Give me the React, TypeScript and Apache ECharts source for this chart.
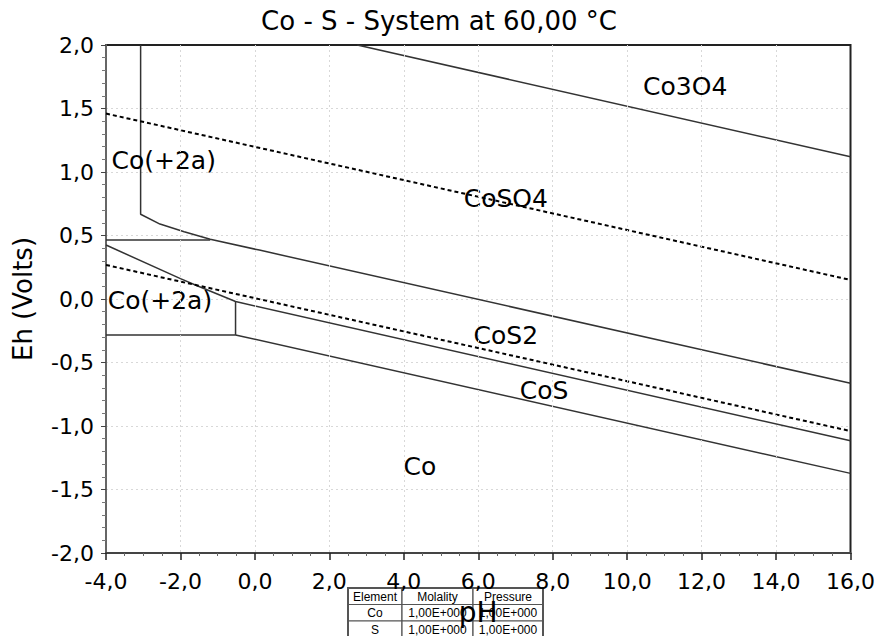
import React, { useEffect, useRef } from "react";
import * as echarts from "echarts";

const titleText = "Co - S - System at 60,00 °C";
const xName = "pH";
const yName = "Eh (Volts)";

// boundary lines [pH, Eh]
const lineA: number[][] = [[-3.07, 2.0], [-3.07, 0.667], [-2.55, 0.59], [-1.9, 0.53], [-1.2, 0.47], [0.12, 0.385], [16, -0.664]];
const lineB: number[][] = [[-4, 0.465], [-1.2, 0.465]];
const lineC: number[][] = [[2.75, 2.0], [16, 1.12]];
const lineD: number[][] = [[-4, 0.425], [-2.0, 0.16], [-1.6, 0.11], [-0.52, -0.02], [16, -1.116]];
const lineE: number[][] = [[-0.52, -0.02], [-0.52, -0.283]];
const lineF: number[][] = [[-4, -0.283], [-0.52, -0.283], [16, -1.373]];
const dottedUpper: number[][] = [[-4, 1.46], [16, 0.15]];
const dottedLower: number[][] = [[-4, 0.268], [16, -1.04]];

const regionNames = ["Co3O4", "Co(+2a)", "CoSO4", "Co(+2a)", "CoS2", "CoS", "Co"];
const regionPH = [11.56, -2.45, 6.74, -2.55, 6.74, 7.77, 4.43];
const regionEh = [1.677, 1.087, 0.795, -0.01, -0.29, -0.724, -1.315];

const tableHeader = ["Element", "Molality", "Pressure"];
const tableRows = [
  ["Co", "1,00E+000", "1,00E+000"],
  ["S", "1,00E+000", "1,00E+000"],
];

const FONT = "DejaVu Sans";

export default function App() {
  const ref = useRef<HTMLDivElement>(null);
  useEffect(() => {
    document.body.style.margin = "0";
    const chart = echarts.init(ref.current!, null, { renderer: "svg" });
    const fmt = (v: number) => v.toFixed(1).replace(".", ",");
    const solid = { color: "#333", width: 1.5 };
    const dotted = { color: "#000", width: 2, type: [4, 3] as any };
    const mk = (data: number[][], ls: any) => ({
      type: "line",
      data,
      showSymbol: false,
      symbol: "none",
      lineStyle: ls,
      silent: true,
      clip: true,
      z: 3,
    });

    // table graphic
    const colX = [348, 402, 473, 543];
    const rowY = [588, 604.5, 621, 637.5];
    const rows = [tableHeader, ...tableRows];
    const g: any[] = [];
    rows.forEach((r, ri) => {
      r.forEach((t, ci) => {
        g.push({
          type: "rect",
          shape: { x: colX[ci], y: rowY[ri], width: colX[ci + 1] - colX[ci], height: rowY[ri + 1] - rowY[ri] },
          style: { fill: "#fff", stroke: "#555", lineWidth: 1.2 },
          z: 1,
        });
        g.push({
          type: "text",
          x: (colX[ci] + colX[ci + 1]) / 2,
          y: (rowY[ri] + rowY[ri + 1]) / 2 + 0.5,
          style: { text: t, fill: "#000", font: "12px 'Liberation Sans'", align: "center", verticalAlign: "middle" },
          z: 2,
        });
      });
    });
    g.push({
      type: "rect",
      shape: { x: colX[0], y: rowY[0], width: colX[3] - colX[0], height: rowY[3] - rowY[0] },
      style: { fill: "none", stroke: "#555", lineWidth: 2 },
      z: 2,
    });

    chart.setOption({
      animation: false,
      backgroundColor: "#fff",
      title: {
        text: titleText,
        left: "center",
        top: 3,
        textStyle: { fontFamily: FONT, fontSize: 26, fontWeight: "normal", color: "#000" },
      },
      grid: {
        left: 106,
        right: 25,
        top: 45,
        bottom: 83,
        show: true,
        borderColor: "#222",
        borderWidth: 2,
        backgroundColor: "transparent",
      },
      xAxis: {
        type: "value",
        min: -4,
        max: 16,
        interval: 2,
        z: 10,
        name: xName,
        nameLocation: "middle",
        nameGap: 45,
        nameTextStyle: { fontFamily: FONT, fontSize: 28, color: "#000" },
        axisLine: { show: true, onZero: false, lineStyle: { color: "#444", width: 2 } },
        axisTick: { show: true, length: 7, lineStyle: { color: "#222", width: 1.5 } },
        minorTick: { show: true, splitNumber: 4, length: 3, lineStyle: { color: "#666" } },
        axisLabel: { fontFamily: FONT, fontSize: 22, color: "#000", margin: 17, formatter: fmt },
        splitLine: { show: true, showMinLine: false, showMaxLine: false, lineStyle: { color: "#d8d8d8", type: [2, 3] as any, width: 1 } },
      },
      yAxis: {
        type: "value",
        min: -2,
        max: 2,
        interval: 0.5,
        name: yName,
        nameLocation: "middle",
        nameGap: 70,
        nameTextStyle: { fontFamily: FONT, fontSize: 26, color: "#000" },
        axisLine: { show: true, onZero: false, lineStyle: { color: "#666", width: 2 } },
        axisTick: { show: true, length: 5, lineStyle: { color: "#444", width: 1 } },
        minorTick: { show: true, splitNumber: 5, length: 4, lineStyle: { color: "#777" } },
        axisLabel: { fontFamily: FONT, fontSize: 22, color: "#000", margin: 12, formatter: fmt },
        splitLine: { show: true, showMinLine: false, showMaxLine: false, lineStyle: { color: "#d8d8d8", type: [2, 3] as any, width: 1 } },
      },
      graphic: g,
      series: [
        mk(lineA, solid),
        mk(lineB, solid),
        mk(lineC, solid),
        mk(lineD, solid),
        mk(lineE, solid),
        mk(lineF, solid),
        mk(dottedUpper, dotted),
        mk(dottedLower, dotted),
        {
          type: "scatter",
          symbolSize: 0,
          silent: true,
          z: 5,
          itemStyle: { opacity: 1 },
          data: regionNames.map((n, i) => ({ name: n, value: [regionPH[i], regionEh[i]] })),
          label: {
            show: true,
            position: "inside",
            formatter: "{b}",
            fontFamily: FONT,
            fontSize: 25,
            color: "#000",
            opacity: 1,
          },
        },
      ],
    });
    return () => chart.dispose();
  }, []);
  return <div ref={ref} style={{ width: 878, height: 636 }} />;
}
